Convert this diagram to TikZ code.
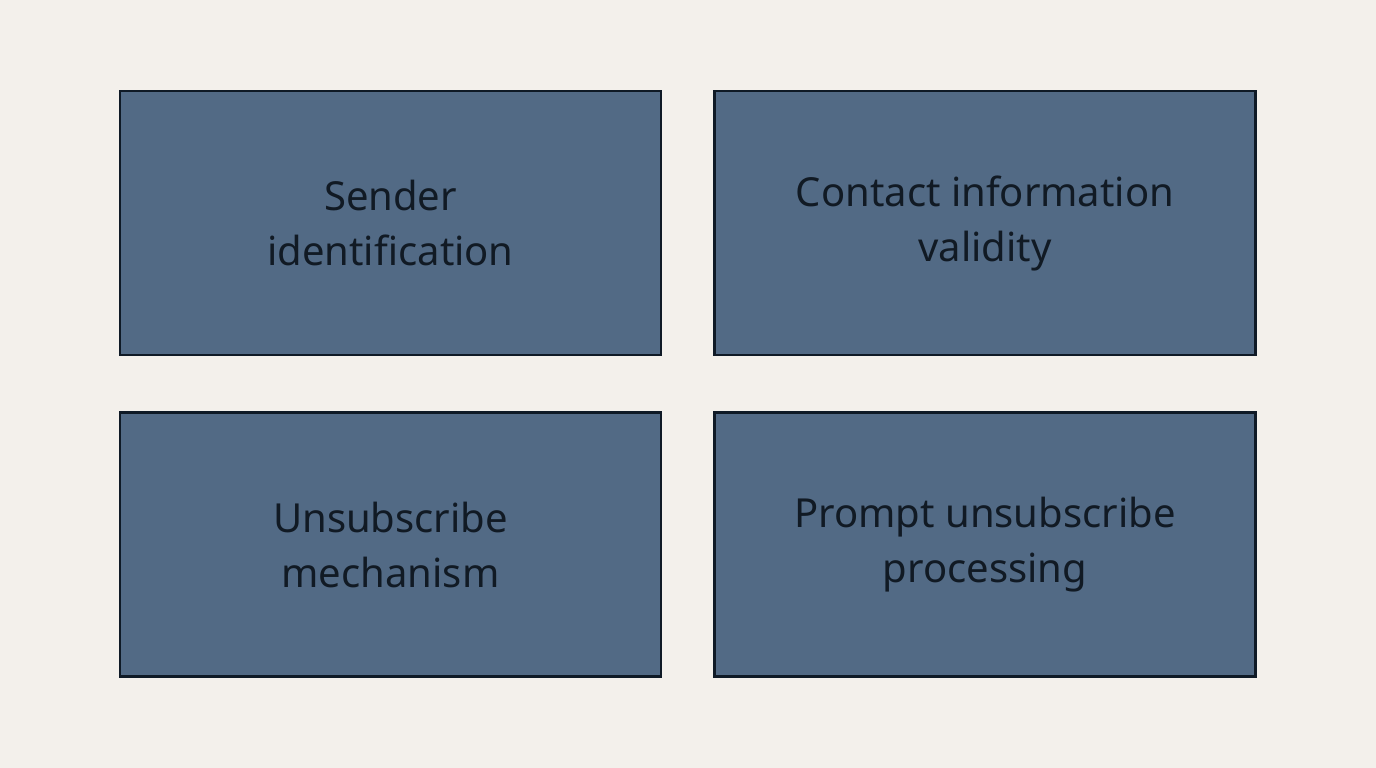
\documentclass[tikz,border=0pt]{standalone}
\usepackage{fontspec}
\setmainfont{Noto Sans}
\definecolor{bg}{HTML}{F3F0EB}
\definecolor{boxfill}{HTML}{526A85}
\definecolor{boxline}{HTML}{0F1A26}
\definecolor{txt}{HTML}{111A24}
\begin{document}
\begin{tikzpicture}[x=1pt,y=-1pt,
  card/.style={draw=boxline,line width=2.5pt,fill=boxfill,minimum width=541pt,minimum height=264pt,
    text=txt,align=center,font=\fontsize{40}{55}\selectfont,inner sep=0pt}]
\fill[bg] (0,0) rectangle (1376,768);
\useasboundingbox (0,0) rectangle (1376,768);
\node[card] (a) at (390.5,223) {Sender\\identification};
\node[card] (b) at (985,223) {Contact information\\validity};
\node[card] (c) at (390.5,544.5) {Unsubscribe\\mechanism};
\node[card] (d) at (985,544.5) {Prompt unsubscribe\\processing};
\end{tikzpicture}
\end{document}
